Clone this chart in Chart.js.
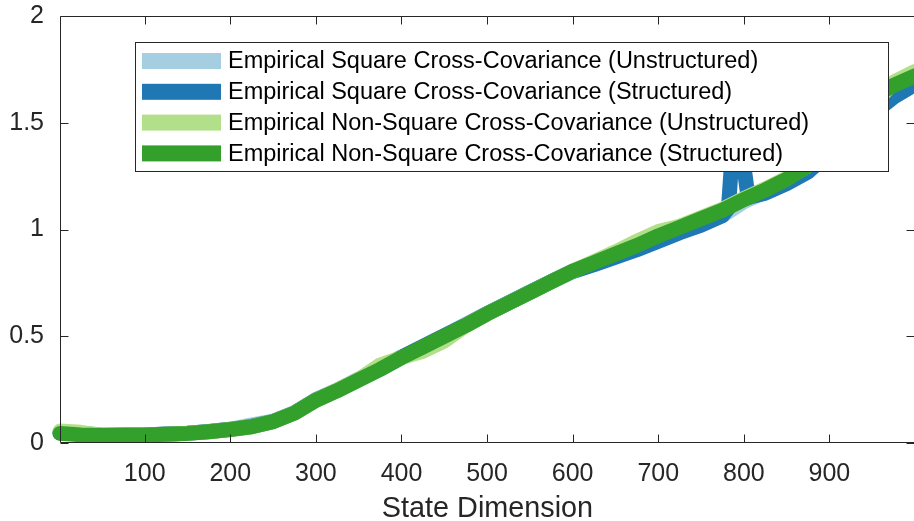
<!DOCTYPE html>
<html><head><meta charset="utf-8">
<script src="https://cdn.jsdelivr.net/npm/chart.js@4.4.0/dist/chart.umd.min.js"></script>
<style>
html,body{margin:0;padding:0;background:#fff;overflow:hidden;width:914px;height:521px;}
#wrap{position:absolute;left:0;top:0;width:918px;height:521px;}
</style></head><body>
<div id="wrap"><canvas id="c"></canvas></div>
<script>
// ---- data ----
const seriesLabels = [
  'Empirical Square Cross-Covariance (Unstructured)',
  'Empirical Square Cross-Covariance (Structured)',
  'Empirical Non-Square Cross-Covariance (Unstructured)',
  'Empirical Non-Square Cross-Covariance (Structured)'
];
const seriesColors = ['#a6cee3', '#1f78b4', '#b2df8a', '#33a02c'];

const xValues = [1,25,50,75,100,125,150,175,200,225,250,275,300,325,350,375,400,425,450,475,500,
                 525,550,575,600,625,650,675,700,725,750,775,800,825,850,875,900,925,950,975,1000];

const squareUnstructured = [0.048,0.042,0.036,0.037,0.038,0.042,0.046,0.054,0.064,0.085,0.102,0.142,0.203,0.248,0.300,0.347,0.402,0.452,0.503,0.555,0.607,
                            0.657,0.707,0.757,0.805,0.838,0.872,0.908,0.947,0.987,1.022,1.065,1.130,1.175,1.218,1.272,1.360,1.450,1.540,1.620,1.680];

const xSquareStructured = [1,25,50,75,100,125,150,175,200,225,250,275,300,325,350,375,400,425,450,475,500,
                           525,550,575,600,625,650,675,700,725,750,775,782,788,795,805,825,850,875,900,925,950,975,1000];
const squareStructured = [0.047,0.046,0.036,0.037,0.038,0.042,0.046,0.054,0.064,0.078,0.101,0.141,0.202,0.247,0.297,0.347,0.402,0.452,0.502,0.552,0.606,
                          0.656,0.706,0.756,0.803,0.835,0.870,0.905,0.945,0.985,1.020,1.065,1.100,1.450,1.450,1.150,1.170,1.215,1.270,1.360,1.450,1.540,1.620,1.680];

const nonSquareUnstructured = [0.056,0.050,0.037,0.036,0.037,0.041,0.046,0.053,0.063,0.076,0.100,0.140,0.200,0.248,0.298,0.365,0.400,0.430,0.478,0.550,0.605,
                               0.655,0.705,0.755,0.805,0.850,0.895,0.945,0.990,1.015,1.055,1.095,1.145,1.190,1.240,1.300,1.390,1.480,1.580,1.690,1.740];

const nonSquareStructured = [0.045,0.038,0.035,0.036,0.037,0.041,0.045,0.053,0.063,0.076,0.100,0.140,0.200,0.245,0.295,0.345,0.400,0.450,0.500,0.550,0.605,
                             0.655,0.705,0.755,0.805,0.845,0.885,0.925,0.970,1.010,1.050,1.090,1.140,1.185,1.235,1.300,1.420,1.530,1.620,1.675,1.720];

const xTickValues = [100,200,300,400,500,600,700,800,900];
const yTickValues = [0,0.5,1,1.5,2];
const xTitle = 'State Dimension';

// ---- build chart ----
const pts = (xs, ys) => xs.map((x, i) => ({x: x, y: ys[i]}));
const seriesData = [
  pts(xValues, squareUnstructured),
  pts(xSquareStructured, squareStructured),
  pts(xValues, nonSquareUnstructured),
  pts(xValues, nonSquareStructured)
];
const drawOrder = [3, 2, 1, 0]; // last series on top

const FONT = "'Liberation Sans', Arial, Helvetica, sans-serif";
const AXIS_COLOR = '#262626';

const framePlugin = {
  id: 'frame',
  afterDatasetsDraw(chart) {
    const {ctx, chartArea: a, scales: {x, y}} = chart;
    ctx.save();
    ctx.strokeStyle = AXIS_COLOR;
    ctx.lineWidth = 1;
    ctx.beginPath();
    const L = Math.round(a.left) + 0.5, R = Math.round(a.right) - 0.5;
    const T = Math.round(a.top) + 0.5, B = Math.round(a.bottom) - 0.5;
    ctx.moveTo(L, T); ctx.lineTo(R, T); ctx.lineTo(R, B); ctx.lineTo(L, B); ctx.closePath();
    const tl = 8;
    xTickValues.forEach(v => {
      const px = Math.round(x.getPixelForValue(v)) + 0.5;
      ctx.moveTo(px, B); ctx.lineTo(px, B - tl);
      ctx.moveTo(px, T); ctx.lineTo(px, T + tl);
    });
    yTickValues.forEach(v => {
      const py = Math.round(y.getPixelForValue(v)) + 0.5;
      ctx.moveTo(L, py); ctx.lineTo(L + tl, py);
      ctx.moveTo(R, py); ctx.lineTo(R - tl, py);
    });
    ctx.stroke();

    // legend box
    const bx = 135, by = 42, bw = 754, bh = 130;
    ctx.fillStyle = '#ffffff';
    ctx.fillRect(bx, by, bw, bh);
    ctx.strokeStyle = AXIS_COLOR;
    ctx.strokeRect(bx + 0.5, by + 0.5, bw - 1, bh - 1);
    ctx.font = "23.5px " + FONT;
    ctx.textBaseline = 'middle';
    ctx.textAlign = 'left';
    chart.data.datasets.forEach((ds, i) => {
      const cy = by + 19 + i * 30.8;
      ctx.fillStyle = ds.borderColor;
      ctx.fillRect(bx + 7, cy - 8, 79, 16);
      ctx.fillStyle = '#000000';
      ctx.fillText(ds.label, bx + 93, cy + 1);
    });
    ctx.restore();
  }
};

new Chart(document.getElementById('c'), {
  type: 'line',
  data: {
    datasets: seriesData.map((d, i) => ({
      label: seriesLabels[i],
      data: d,
      borderColor: seriesColors[i],
      backgroundColor: seriesColors[i],
      borderWidth: 15,
      pointRadius: 0,
      fill: false,
      tension: 0,
      borderCapStyle: 'round',
      borderJoinStyle: 'round',
      clip: false,
      order: drawOrder[i]
    }))
  },
  options: {
    responsive: true,
    maintainAspectRatio: false,
    animation: false,
    layout: {padding: {top: 16, right: 3, left: 0, bottom: 0}},
    plugins: {legend: {display: false}, tooltip: {enabled: false}},
    scales: {
      x: {
        type: 'linear', min: 1, max: 1000,
        afterBuildTicks: s => { s.ticks = xTickValues.map(v => ({value: v})); },
        afterFit: s => { s.height = 78; s.paddingLeft = 0; s.paddingRight = 0; },
        grid: {display: false},
        border: {display: false},
        ticks: {autoSkip: false, maxRotation: 0, color: AXIS_COLOR, padding: 8,
                font: {family: FONT, size: 25}, callback: v => String(v)},
        title: {display: true, text: xTitle, color: AXIS_COLOR,
                font: {family: FONT, size: 28.8, lineHeight: 0.8}, padding: {top: 0, bottom: 0}}
      },
      y: {
        type: 'linear', min: 0, max: 2,
        afterBuildTicks: s => { s.ticks = yTickValues.map(v => ({value: v})); },
        afterFit: s => { s.width = 60; s.paddingTop = 0; s.paddingBottom = 0; },
        grid: {display: false},
        border: {display: false},
        ticks: {autoSkip: false, color: AXIS_COLOR, padding: 8,
                font: {family: FONT, size: 25}, callback: v => String(v)}
      }
    }
  },
  plugins: [framePlugin]
});
</script>
</body></html>
